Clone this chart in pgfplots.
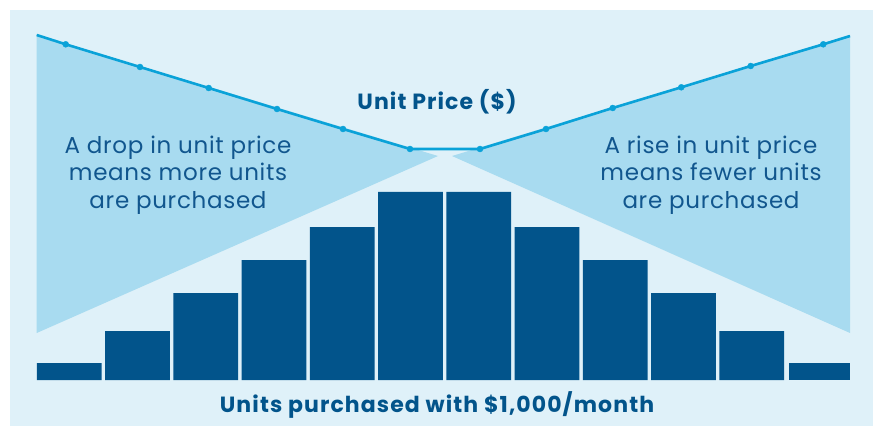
\documentclass[border=0pt]{standalone}
\usepackage{pgfplots}
\pgfplotsset{compat=1.18}
\usepackage{fontspec}
\setmainfont{Poppins}
\newfontfamily\bodyfont[LetterSpace=3]{Poppins}
\newfontfamily\headfont[LetterSpace=5]{Poppins}
\definecolor{panel}{HTML}{DFF1F9}
\definecolor{tri}{HTML}{A8DBF0}
\definecolor{linec}{HTML}{0AA2D8}
\definecolor{barc}{HTML}{02548B}
\definecolor{txt}{HTML}{11568E}
\begin{document}
\begin{tikzpicture}
\begin{axis}[
  width=874pt, height=426pt, scale only axis,
  xmin=0, xmax=874, ymin=-46, ymax=380,
  axis lines=none, xtick=\empty, ytick=\empty,
  clip=true,
]
% background
\fill[white] (axis cs:0,-46) rectangle (axis cs:874,380);
\fill[panel] (axis cs:10,-46) rectangle (axis cs:873,370);
% triangles
\addplot[fill=tri, draw=none] coordinates {(36.7,345) (36.7,47) (438,224)} -- cycle;
\addplot[fill=tri, draw=none] coordinates {(850,345) (850,47) (452,224)} -- cycle;
% bars
\addplot[ybar, bar width=64.7, fill=barc, draw=none] coordinates {
(69.2,17) (137.45,49) (205.7,87) (273.95,120) (342.2,153) (410.45,188)
(478.7,188) (546.95,153) (615.2,120) (683.45,87) (751.7,49)};
\addplot[ybar, bar width=61, fill=barc, draw=none] coordinates {(819.5,17)};
% price line
\addplot[linec, line width=2.6pt, mark=none] coordinates {
(36.7,345) (65.7,335.7) (140,313) (208.7,292) (277,271) (343,251) (410,231)
(480,231) (546,251) (612.7,272) (681.3,292.7) (750.7,314) (823.3,335.7) (850,344)};
\addplot[only marks, mark=*, mark size=3pt, mark options={fill=linec, draw=linec}] coordinates {
(65.7,335.7) (140,313) (208.7,292) (277,271) (343,251) (410,231)
(480,231) (546,251) (612.7,272) (681.3,292.7) (750.7,314) (823.3,335.7)};
% texts
\node[anchor=base, text=txt, font=\bodyfont\fontsize{23}{27}\selectfont] at (axis cs:178,226) {A drop in unit price};
\node[anchor=base, text=txt, font=\bodyfont\fontsize{23}{27}\selectfont] at (axis cs:178,199) {means more units};
\node[anchor=base, text=txt, font=\bodyfont\fontsize{23}{27}\selectfont] at (axis cs:178,172) {are purchased};
\node[anchor=base, text=txt, font=\bodyfont\fontsize{23}{27}\selectfont] at (axis cs:711,226) {A rise in unit price};
\node[anchor=base, text=txt, font=\bodyfont\fontsize{23}{27}\selectfont] at (axis cs:711,199) {means fewer units};
\node[anchor=base, text=txt, font=\bodyfont\fontsize{23}{27}\selectfont] at (axis cs:711,172) {are purchased};
\node[anchor=base, text=barc, font=\headfont\fontsize{22}{26}\selectfont\bfseries] at (axis cs:437,270) {Unit Price (\$)};
\node[anchor=base, text=barc, font=\headfont\fontsize{22}{26}\selectfont\bfseries] at (axis cs:437,-32) {Units purchased with \$1,000/month};
\end{axis}
\end{tikzpicture}
\end{document}
